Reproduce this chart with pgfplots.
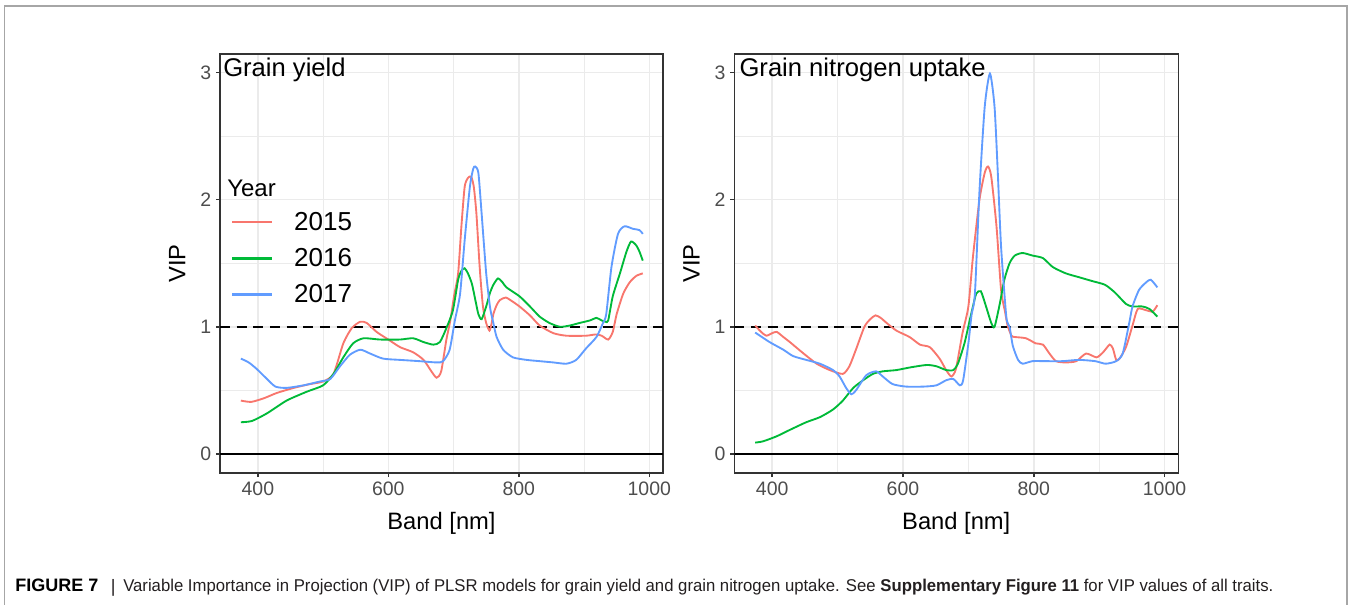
\documentclass[border=0pt]{standalone}
\usepackage{fontspec}
\setmainfont{Liberation Sans}
\usepackage{graphicx}
\usepackage{pgfplots}
\pgfplotsset{compat=1.18}

\definecolor{c15}{HTML}{F8766D}
\definecolor{c16}{HTML}{00BA38}
\definecolor{c17}{HTML}{619CFF}
\definecolor{gridc}{HTML}{EBEBEB}
\definecolor{axc}{HTML}{333333}
\definecolor{tlc}{HTML}{4D4D4D}
\definecolor{framec}{HTML}{A6A6A6}
\definecolor{capc}{HTML}{231F20}

\pgfplotsset{
 vipaxis/.style={
  scale only axis, height=314.25pt,
  xmin=342, xmax=1021, ymin=-0.149, ymax=3.144,
  xtick={400,600,800,1000}, minor xtick={500,700,900},
  ytick={0,1,2,3}, minor ytick={0.5,1.5,2.5},
  grid=both,
  major grid style={gridc, line width=1.1pt},
  minor grid style={gridc, line width=0.6pt},
  axis line style={axc, line width=1.1pt},
  tick align=outside, xtick pos=left, ytick pos=left,
  major tick length=3pt, minor tick length=0pt,
  every tick/.style={axc, line width=1.1pt},
  tick label style={font=\fontsize{14.6}{17}\selectfont, text=tlc},
  /pgf/number format/assume math mode=true,
  /pgf/number format/1000 sep={},
  xlabel={Band [nm]}, ylabel={VIP},
  label style={font=\fontsize{17.8}{20}\selectfont, text=black},
  xlabel style={at={(axis description cs:0.5,-0.1337)}, anchor=base},
  ylabel style={at={(axis description cs:-0.0779,0.5)}, anchor=base},
  every axis plot/.append style={line width=1.4pt, smooth, tension=0.4},
 }
}

\begin{document}
\begin{tikzpicture}
\useasboundingbox (0pt,0pt) rectangle (1014pt,-453pt);
\draw[framec, line width=1pt] (3.2pt,-460pt) -- (3.2pt,-4.5pt) -- (1010.25pt,-4.5pt) -- (1010.25pt,-460pt);

% ---------------- Left panel: Grain yield ----------------
\begin{axis}[vipaxis, at={(165pt,-354.75pt)}, anchor=south west, width=332.25pt,
  legend style={at={(axis description cs:0.0248,0.623)}, anchor=north west,
    draw=none, fill=none, inner sep=0pt, font=\fontsize{19.5}{22}\selectfont,
    row sep=12pt, column sep=15.5pt, nodes={inner sep=0pt}},
  legend cell align=left,
  legend image code/.code={\draw[#1, line width=1.7pt] (0pt,0pt) -- (30pt,0pt);}]
\addplot[black, line width=1.5pt, forget plot, sharp plot] coordinates {(342,0) (1021,0)};
\addplot[black, line width=1.5pt, dash pattern=on 7.5pt off 5pt, forget plot, sharp plot] coordinates {(342,1) (1021,1)};
\addplot[c15] coordinates {
(374,0.42) (390,0.41) (410,0.44) (429,0.48) (455,0.52) (480,0.55) (500,0.57)
(516,0.63) (531,0.87) (544,0.99) (557,1.04) (567,1.03) (582,0.96) (600,0.90)
(618,0.84) (638,0.80) (654,0.74) (666,0.65) (674,0.60) (681,0.65) (689,0.90)
(695,1.05) (701,1.25) (707,1.42) (712,1.79) (717,2.10) (722,2.17) (727,2.18)
(731,2.10) (735,1.89) (740,1.47) (745,1.16) (750,1.03) (755,0.97) (758,1.02)
(761,1.10) (766,1.17) (771,1.21) (780,1.23) (790,1.20) (801,1.16) (817,1.09)
(832,1.01) (853,0.95) (873,0.93) (903,0.93) (918,0.94) (927,0.93) (937,0.90)
(944,0.96) (950,1.10) (960,1.26) (970,1.35) (980,1.40) (990,1.42)};
\addlegendentry{2015}
\addplot[c16] coordinates {
(374,0.25) (391,0.26) (414,0.32) (444,0.42) (475,0.49) (500,0.54) (516,0.63)
(531,0.76) (546,0.87) (562,0.91) (587,0.90) (618,0.90) (638,0.91) (654,0.88)
(669,0.86) (679,0.88) (689,0.99) (699,1.13) (707,1.37) (712,1.44) (717,1.46)
(722,1.42) (728,1.34) (733,1.22) (738,1.10) (743,1.06) (750,1.16) (756,1.27)
(761,1.33) (768,1.38) (775,1.35) (781,1.31) (801,1.24) (817,1.16) (832,1.08)
(847,1.03) (863,1.00) (878,1.01) (893,1.03) (909,1.05) (919,1.07) (927,1.05)
(933,1.04) (937,1.05) (944,1.24) (955,1.42) (965,1.59) (972,1.67) (980,1.64)
(985,1.59) (990,1.52)};
\addlegendentry{2016}
\addplot[c17] coordinates {
(374,0.75) (386,0.72) (398,0.67) (414,0.59) (427,0.53) (444,0.52) (470,0.54)
(495,0.57) (511,0.59) (526,0.69) (541,0.78) (557,0.82) (572,0.79) (592,0.75)
(618,0.74) (648,0.73) (674,0.72) (684,0.73) (694,0.82) (702,1.05) (710,1.26)
(717,1.68) (725,2.10) (730,2.24) (733,2.26) (738,2.21) (743,1.89) (750,1.42)
(756,1.15) (761,1.03) (766,0.92) (776,0.82) (791,0.76) (812,0.74) (832,0.73)
(853,0.72) (873,0.71) (888,0.74) (903,0.83) (919,0.92) (929,1.03) (934,1.10)
(942,1.47) (952,1.73) (962,1.79) (975,1.77) (985,1.76) (990,1.73)};
\addlegendentry{2017}
\node[anchor=base west, inner sep=0pt, font=\fontsize{19.2}{22}\selectfont] at (rel axis cs:0.0068,0.9475) {Grain yield};
\node[anchor=base west, inner sep=0pt, font=\fontsize{18}{21}\selectfont] at (rel axis cs:0.0158,0.661) {Year};
\end{axis}

% ---------------- Right panel: Grain nitrogen uptake ----------------
\begin{axis}[vipaxis, at={(550.7pt,-354.75pt)}, anchor=south west, width=333pt]
\addplot[black, line width=1.5pt, forget plot, sharp plot] coordinates {(342,0) (1021,0)};
\addplot[black, line width=1.5pt, dash pattern=on 7.5pt off 5pt, forget plot, sharp plot] coordinates {(342,1) (1021,1)};
\addplot[c15] coordinates {
(374,1.01) (383,0.96) (391,0.93) (400,0.95) (407,0.96) (417,0.92) (427,0.88)
(448,0.79) (468,0.71) (488,0.66) (508,0.63) (518,0.69) (528,0.82) (541,1.00)
(550,1.06) (558,1.09) (566,1.07) (575,1.03) (590,0.97) (610,0.92) (626,0.86)
(641,0.84) (656,0.75) (666,0.66) (674,0.61) (681,0.67) (691,0.95) (700,1.16)
(707,1.55) (717,2.00) (725,2.21) (730,2.26) (735,2.18) (743,1.79) (750,1.29)
(756,1.12) (760,1.01) (766,0.93) (771,0.92) (788,0.91) (803,0.87) (814,0.86)
(824,0.79) (834,0.73) (849,0.72) (865,0.73) (880,0.79) (896,0.76) (906,0.80)
(916,0.86) (921,0.83) (926,0.74) (931,0.75) (941,0.84) (951,1.01) (959,1.14)
(972,1.13) (982,1.12) (989,1.17)};
\addplot[c16] coordinates {
(374,0.09) (386,0.10) (407,0.14) (427,0.19) (452,0.25) (473,0.29) (493,0.35)
(508,0.42) (524,0.52) (539,0.58) (554,0.63) (569,0.65) (590,0.66) (610,0.68)
(636,0.70) (651,0.69) (666,0.66) (677,0.66) (684,0.71) (694,0.87) (702,1.05)
(707,1.16) (712,1.26) (719,1.28) (727,1.16) (735,1.03) (740,1.00) (748,1.18)
(755,1.37) (763,1.50) (771,1.56) (783,1.58) (798,1.56) (814,1.54) (829,1.47)
(849,1.42) (869,1.39) (889,1.36) (909,1.33) (924,1.27) (941,1.18) (951,1.16)
(966,1.16) (977,1.14) (989,1.08)};
\addplot[c17] coordinates {
(374,0.955) (396,0.88) (417,0.82) (432,0.77) (452,0.74) (473,0.71) (493,0.66)
(503,0.61) (513,0.52) (521,0.47) (528,0.50) (544,0.62) (559,0.65) (569,0.61)
(584,0.55) (605,0.53) (631,0.53) (651,0.54) (666,0.58) (677,0.59) (687,0.54)
(692,0.58) (700,0.87) (705,1.10) (710,1.26) (717,2.07) (725,2.73) (733,2.99)
(740,2.73) (745,2.21) (750,1.63) (758,1.08) (763,1.00) (768,0.85) (776,0.74)
(783,0.71) (798,0.73) (819,0.73) (844,0.73) (869,0.74) (894,0.73) (910,0.71)
(926,0.73) (936,0.79) (946,1.03) (951,1.16) (961,1.29) (972,1.35) (979,1.37)
(989,1.31)};
\node[anchor=base west, inner sep=0pt, font=\fontsize{19.2}{22}\selectfont] at (rel axis cs:0.0113,0.9475) {Grain nitrogen uptake};
\end{axis}

\node[anchor=base west, inner sep=0pt, text=black, font=\fontsize{13.5}{15}\selectfont\bfseries] at (11.25pt,-443.25pt) {FIGURE 7};
\node[anchor=base west, inner sep=0pt, text=capc, font=\fontsize{13.5}{15}\selectfont] at (83pt,-444pt) {|};
\node[anchor=base west, inner sep=0pt, text=capc] at (92.25pt,-443.25pt)
 {\resizebox{862.5pt}{\height}{\fontsize{12.8}{15}\selectfont Variable Importance in Projection (VIP) of PLSR models for grain yield and grain nitrogen uptake. See \textbf{Supplementary Figure 11} for VIP values of all traits.}};
\end{tikzpicture}
\end{document}
